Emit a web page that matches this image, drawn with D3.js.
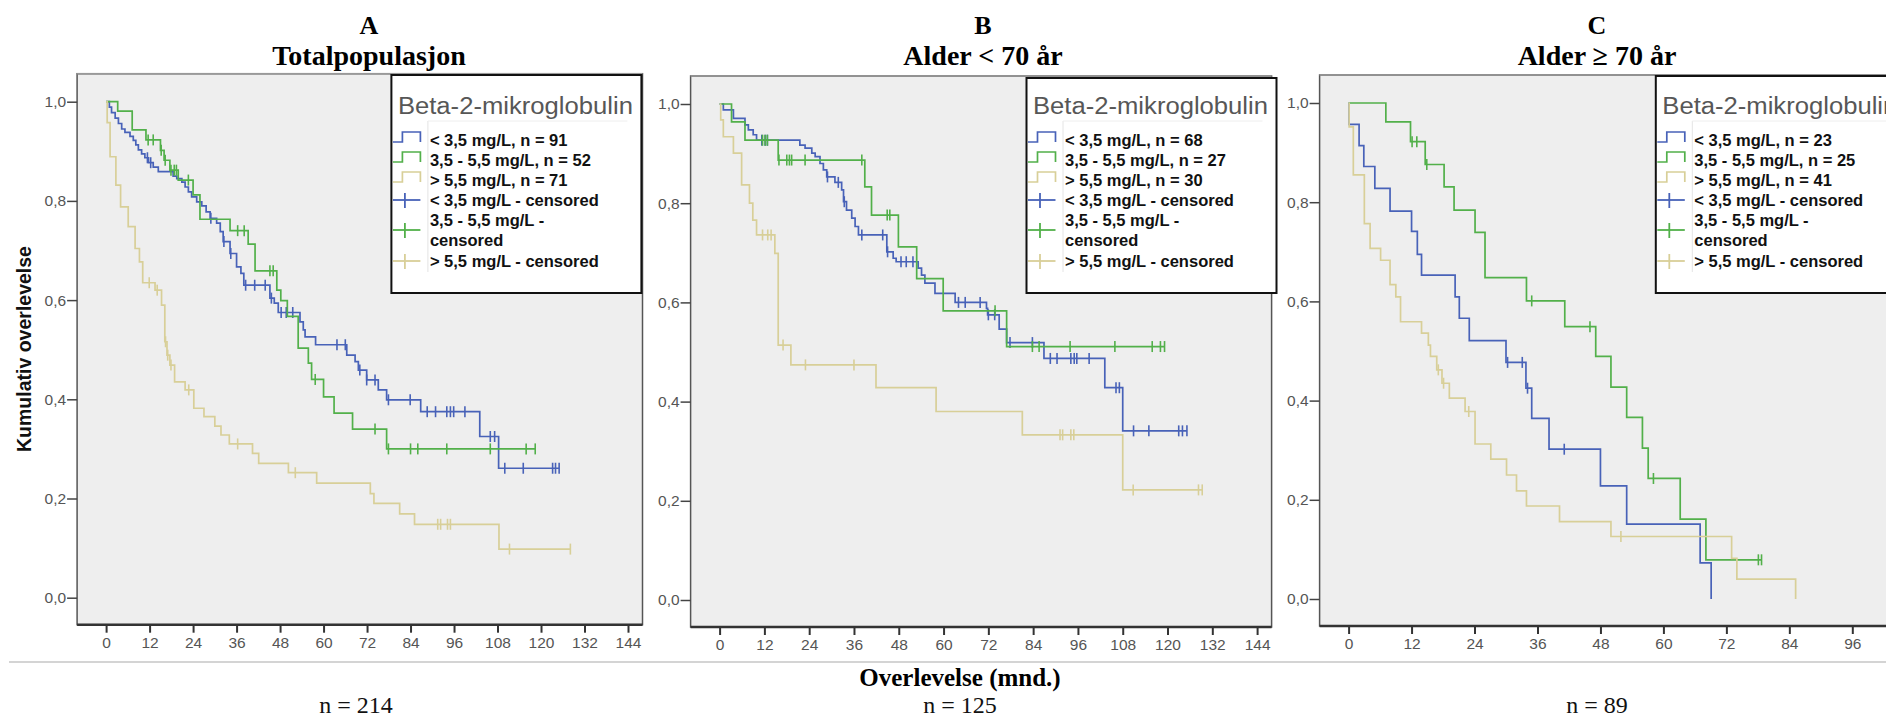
<!DOCTYPE html>
<html>
<head>
<meta charset="utf-8">
<script src="https://cdn.jsdelivr.net/npm/d3@7"></script>
<style>
  body { margin: 0; background: #fff; }
  svg { display: block; }
</style>
</head>
<body>
<svg id="chart" width="1886" height="718"></svg>
<script>
// ---- chart data ----
const panelLetters = ['A', 'B', 'C'];
const panelTitles = ['Totalpopulasjon', 'Alder < 70 år', 'Alder ≥ 70 år'];
const panelN = ['n = 214', 'n = 125', 'n = 89'];
const xTitle = 'Overlevelse (mnd.)';
const yTitle = 'Kumulativ overlevelse';
const legendTitle = 'Beta-2-mikroglobulin';
const groupColors = ['#4862b8', '#52b04a', '#d8cf98'];

const xTicksWide = [0, 12, 24, 36, 48, 60, 72, 84, 96, 108, 120, 132, 144];
const xTicksNarrow = [0, 12, 24, 36, 48, 60, 72, 84, 96];
const yTicks = [0, 0.2, 0.4, 0.6, 0.8, 1.0];

const legendA = ['< 3,5 mg/L, n = 91', '3,5 - 5,5 mg/L, n = 52', '> 5,5 mg/L, n = 71',
  '< 3,5 mg/L - censored', '3,5 - 5,5 mg/L -|censored', '> 5,5 mg/L - censored'];
const legendB = ['< 3,5 mg/L, n = 68', '3,5 - 5,5 mg/L, n = 27', '> 5,5 mg/L, n = 30',
  '< 3,5 mg/L - censored', '3,5 - 5,5 mg/L -|censored', '> 5,5 mg/L - censored'];
const legendC = ['< 3,5 mg/L, n = 23', '3,5 - 5,5 mg/L, n = 25', '> 5,5 mg/L, n = 41',
  '< 3,5 mg/L - censored', '3,5 - 5,5 mg/L -|censored', '> 5,5 mg/L - censored'];

// A: Totalpopulasjon
const aLowT = [0.9, 1.5, 2.5, 3.4, 4.3, 5.2, 6.6, 7.5, 8.2, 8.9, 9.8, 10.7, 11.7, 13.0, 14.4, 18.5, 19.5, 20.9, 21.8,
  22.7, 23.6, 25.0, 26.4, 27.6, 28.7, 30.5, 31.5, 32.3, 34.2, 36.0, 37.2, 38.0, 45.2, 46.4, 47.5, 53.5, 54.4, 54.9,
  57.8, 66.4, 68.7, 69.6, 71.9, 75.1, 77.4, 86.8, 103.1, 108.3];
const aLowS = [0.989, 0.978, 0.967, 0.956, 0.945, 0.938, 0.930, 0.922, 0.913, 0.903, 0.895, 0.887, 0.877, 0.868, 0.859,
  0.850, 0.845, 0.838, 0.828, 0.818, 0.808, 0.798, 0.790, 0.778, 0.765, 0.755, 0.738, 0.718, 0.694, 0.667, 0.654, 0.630,
  0.604, 0.594, 0.575, 0.556, 0.540, 0.526, 0.510, 0.489, 0.476, 0.459, 0.439, 0.419, 0.399, 0.375, 0.325, 0.261];
const aLowC = [11.4, 12.3, 28.9, 32.5, 34.4, 38.5, 41.0, 43.9, 45.6, 48.3, 49.7, 51.5, 63.7, 66.0, 70.0, 71.9, 74.2,
  77.9, 83.9, 88.6, 90.9, 94.0, 95.0, 95.9, 99.0, 106.0, 107.2, 110.0, 115.1, 123.2, 124.0, 125.0];

const aMidT = [3.2, 7.2, 11.0, 15.0, 16.0, 17.6, 19.9, 24.0, 25.9, 34.2, 39.2, 41.1, 47.1, 48.2, 50.0, 53.0, 55.8,
  56.7, 60.0, 62.9, 68.0, 77.4];
const aMidS = [0.981, 0.943, 0.923, 0.902, 0.882, 0.862, 0.842, 0.812, 0.763, 0.740, 0.713, 0.659, 0.620, 0.599,
  0.567, 0.503, 0.473, 0.440, 0.405, 0.372, 0.340, 0.300];
const aMidC = [11.6, 13.0, 15.2, 16.3, 17.9, 18.8, 19.4, 22.7, 36.3, 38.1, 45.2, 46.1, 57.7, 74.2, 77.9, 84.0, 86.0,
  94.0, 106.0, 115.9, 118.4];

const aHighT = [0.3, 1.1, 2.7, 4.0, 6.1, 8.0, 9.2, 10.1, 13.5, 15.3, 16.2, 16.8, 17.6, 18.9, 21.8, 24.2, 27.0, 30.0,
  31.7, 34.0, 40.4, 42.1, 50.3, 58.1, 72.9, 73.9, 81.0, 85.1, 108.4];
const aHighS = [0.958, 0.889, 0.832, 0.788, 0.748, 0.704, 0.677, 0.635, 0.620, 0.590, 0.516, 0.489, 0.469, 0.435,
  0.419, 0.382, 0.365, 0.346, 0.328, 0.310, 0.291, 0.271, 0.252, 0.231, 0.210, 0.190, 0.169, 0.148, 0.098];
const aHighC = [11.9, 14.1, 16.4, 17.0, 17.9, 22.8, 36.3, 52.2, 91.5, 92.3, 94.2, 95.0, 111.3, 128.1];

// B: Alder < 70 år
const bLowT = [1.0, 3.7, 6.8, 7.7, 9.0, 9.9, 21.5, 22.9, 24.7, 25.6, 26.9, 27.8, 28.7, 30.9, 32.7, 33.2, 34.0, 35.4,
  36.3, 37.2, 44.8, 46.5, 47.3, 53.2, 54.1, 55.0, 57.7, 63.1, 71.5, 71.8, 74.9, 76.9, 86.9, 103.2, 108.0];
const bLowS = [0.988, 0.971, 0.958, 0.948, 0.938, 0.927, 0.917, 0.911, 0.901, 0.894, 0.880, 0.867, 0.853, 0.842,
  0.827, 0.803, 0.786, 0.770, 0.753, 0.736, 0.702, 0.689, 0.682, 0.669, 0.655, 0.639, 0.618, 0.600, 0.588, 0.575,
  0.546, 0.519, 0.487, 0.428, 0.341];
const bLowC = [11.3, 12.2, 12.8, 28.9, 31.8, 33.4, 38.1, 43.7, 45.0, 48.6, 50.0, 51.8, 64.0, 65.8, 69.8, 72.0, 73.7,
  77.8, 83.8, 88.6, 90.4, 94.1, 95.0, 95.7, 99.0, 106.2, 107.1, 110.9, 115.0, 123.0, 124.0, 125.2];

const bMidT = [3.2, 6.8, 15.7, 38.9, 40.7, 47.9, 52.8, 59.9, 76.9];
const bMidS = [0.964, 0.927, 0.887, 0.833, 0.776, 0.712, 0.648, 0.583, 0.511];
const bMidC = [11.5, 12.2, 12.8, 15.9, 18.0, 18.7, 19.3, 22.9, 38.1, 44.9, 45.6, 73.8, 83.8, 85.6, 93.9, 105.9,
  115.9, 118.1, 119.2];

const bHighT = [0.3, 1.0, 3.7, 5.9, 8.0, 8.9, 9.9, 14.8, 15.7, 19.1, 41.9, 58.0, 81.1, 108.0];
const bHighS = [0.968, 0.934, 0.901, 0.837, 0.800, 0.766, 0.736, 0.699, 0.514, 0.474, 0.428, 0.380, 0.333, 0.222];
const bHighC = [11.5, 12.9, 13.8, 17.0, 23.0, 36.0, 91.2, 91.9, 94.1, 94.9, 110.8, 128.3, 129.3];

// C: Alder >= 70 år
const cLowT = [0.1, 2.0, 2.9, 5.0, 7.9, 12.0, 13.1, 13.9, 20.3, 21.1, 23.0, 30.0, 33.8, 34.9, 38.2, 48.0, 53.0,
  67.0, 69.1];
const cLowS = [0.957, 0.914, 0.872, 0.828, 0.782, 0.741, 0.695, 0.653, 0.609, 0.566, 0.521, 0.477, 0.425, 0.364,
  0.302, 0.228, 0.151, 0.073, 0.0];
const cLowC = [30.3, 33.1, 34.1, 41.1];

const cMidT = [7.1, 11.8, 14.6, 18.2, 20.1, 24.1, 26.0, 33.9, 41.2, 47.1, 50.0, 53.0, 56.0, 57.1, 63.2, 68.1];
const cMidS = [0.962, 0.922, 0.876, 0.831, 0.784, 0.739, 0.648, 0.601, 0.549, 0.489, 0.427, 0.366, 0.304, 0.243,
  0.161, 0.079];
const cMidC = [12.1, 13.0, 14.9, 34.9, 46.0, 58.1, 78.1, 78.7];

const cHighT = [0.1, 0.9, 3.0, 4.1, 6.1, 7.9, 9.0, 9.9, 13.9, 15.2, 15.6, 16.8, 17.8, 19.2, 22.2, 24.1, 27.1, 30.1,
  32.0, 33.9, 40.2, 50.0, 73.0, 74.0, 85.2];
const cHighS = [0.952, 0.855, 0.757, 0.707, 0.683, 0.634, 0.609, 0.559, 0.536, 0.512, 0.489, 0.462, 0.435, 0.405,
  0.378, 0.3125, 0.282, 0.250, 0.218, 0.1875, 0.156, 0.126, 0.082, 0.040, 0.0];
const cHighC = [17.1, 18.1, 22.9, 51.9];

// ---- layout ----
// C is cropped at the right edge in the reference, so its frame runs past the page (edgeT = last axis month)
const panels = [
  { groups: [[aLowT, aLowS, aLowC], [aMidT, aMidS, aMidC], [aHighT, aHighS, aHighC]], legend: legendA,
    ticks: xTicksWide, tRef: 144, edgeT: 144, x0: 106.1, x1: 628, y0: 597.7, y1: 101.7,
    legendX: 391.4, legendTop: 75, titleX: 369, nX: 356 },
  { groups: [[bLowT, bLowS, bLowC], [bMidT, bMidS, bMidC], [bHighT, bHighS, bHighC]], legend: legendB,
    ticks: xTicksWide, tRef: 144, edgeT: 144, x0: 719.6, x1: 1257.1, y0: 600, y1: 104,
    legendX: 1026.5, legendTop: 78, titleX: 983, nX: 960 },
  { groups: [[cLowT, cLowS, cLowC], [cMidT, cMidS, cMidC], [cHighT, cHighS, cHighC]], legend: legendC,
    ticks: xTicksNarrow, tRef: 96, edgeT: 108, x0: 1348.6, x1: 1852.3, y0: 599, y1: 103,
    legendX: 1655.8, legendTop: 76, titleX: 1597, nX: 1597 }
];

const svg = d3.select('#chart');
svg.append('rect').attr('width', 1886).attr('height', 718).attr('fill', '#fff');

const fmtComma = d => d3.format('.1f')(d).replace('.', ',');

const survAt = (T, S, t) => {
  let s = 1;
  T.forEach((ti, i) => { if (ti <= t) s = S[i]; });
  return s;
};

const rowCenters = [140, 160, 180, 200, 230, 261];

panels.forEach((p, pi) => {
  const x = d3.scaleLinear().domain([0, p.tRef]).range([p.x0, p.x1]);
  const y = d3.scaleLinear().domain([0, 1]).range([p.y0, p.y1]);
  const left = p.x0 - 29, right = x(p.edgeT) + 14.5;
  const top = p.y1 - 28, bottom = p.y0 + 27;

  const g = svg.append('g');

  // plot background + frame
  g.append('rect').attr('x', left).attr('y', top).attr('width', right - left).attr('height', bottom - top)
    .attr('fill', '#eeeeee').attr('stroke', '#555').attr('stroke-width', 1.5);
  g.append('line').attr('x1', left).attr('x2', right).attr('y1', top).attr('y2', top)
    .attr('stroke', '#999').attr('stroke-width', 1.5);

  // y axis
  const yAxis = g.append('g').attr('transform', `translate(${left},0)`)
    .call(d3.axisLeft(y).tickValues(yTicks).tickFormat(fmtComma).tickSize(10).tickPadding(1));
  yAxis.select('.domain').remove();
  yAxis.selectAll('line').attr('stroke', '#444').attr('stroke-width', 1.5);
  yAxis.selectAll('text').attr('font-family', 'Liberation Sans, Arial, sans-serif')
    .attr('font-size', 15.5).attr('fill', '#555');

  // x axis
  const xAxis = g.append('g').attr('transform', `translate(0,${bottom})`)
    .call(d3.axisBottom(x).tickValues(p.ticks).tickFormat(d3.format('d')).tickSize(8).tickPadding(4));
  xAxis.select('.domain').remove();
  xAxis.selectAll('line').attr('stroke', '#333').attr('stroke-width', 2);
  xAxis.selectAll('text').attr('font-family', 'Liberation Sans, Arial, sans-serif')
    .attr('font-size', 15.5).attr('fill', '#555');
  g.append('line').attr('x1', left).attr('x2', right).attr('y1', bottom).attr('y2', bottom)
    .attr('stroke', '#333').attr('stroke-width', 2.5);

  // survival curves
  const line = d3.line().x(d => x(d[0])).y(d => y(d[1])).curve(d3.curveStepAfter);
  p.groups.forEach(([T, S, C], gi) => {
    const end = Math.max(T[T.length - 1], C.length ? C[C.length - 1] : 0);
    const pts = [[0, 1]].concat(T.map((t, i) => [t, S[i]]));
    pts.push([end, S[S.length - 1]]);
    g.append('path').attr('d', line(pts)).attr('fill', 'none')
      .attr('stroke', groupColors[gi]).attr('stroke-width', 1.7);
    g.selectAll(null).data(C).enter().append('line')
      .attr('x1', d => x(d)).attr('x2', d => x(d))
      .attr('y1', d => y(survAt(T, S, d)) - 5.5).attr('y2', d => y(survAt(T, S, d)) + 5.5)
      .attr('stroke', groupColors[gi]).attr('stroke-width', 1.6);
  });

  // legend
  const lx = p.legendX;
  const lg = svg.append('g');
  lg.append('rect').attr('x', lx).attr('y', p.legendTop).attr('width', 250).attr('height', 293 - p.legendTop)
    .attr('fill', '#fff').attr('stroke', '#111').attr('stroke-width', 2);
  lg.append('line').attr('x1', lx + 36.5).attr('x2', lx + 36.5).attr('y1', 121).attr('y2', 272)
    .attr('stroke', '#e4e4e4').attr('stroke-width', 1);
  lg.append('line').attr('x1', lx + 36.5).attr('x2', lx + 236).attr('y1', 121).attr('y2', 121)
    .attr('stroke', '#eeeeee').attr('stroke-width', 1);
  lg.append('text').attr('x', lx + 6.5).attr('y', 113.5).text(legendTitle)
    .attr('font-family', 'Liberation Sans, Arial, sans-serif').attr('font-size', 23)
    .attr('fill', '#575757').attr('textLength', 235).attr('lengthAdjust', 'spacingAndGlyphs');

  p.legend.forEach((label, ri) => {
    const cy = rowCenters[ri];
    const col = groupColors[ri % 3];
    if (ri < 3) {
      lg.append('path')
        .attr('d', `M${lx + 1.5},${cy + 2}H${lx + 11}V${cy - 8}H${lx + 29}V${cy + 2}`)
        .attr('fill', 'none').attr('stroke', col).attr('stroke-width', 1.7);
    } else {
      lg.append('line').attr('x1', lx + 1.5).attr('x2', lx + 29).attr('y1', cy).attr('y2', cy)
        .attr('stroke', col).attr('stroke-width', 1.8);
      lg.append('line').attr('x1', lx + 13.5).attr('x2', lx + 13.5).attr('y1', cy - 7).attr('y2', cy + 8)
        .attr('stroke', col).attr('stroke-width', 1.8);
    }
    const lines = label.split('|');
    lines.forEach((txt, li) => {
      lg.append('text').attr('x', lx + 38.5)
        .attr('y', cy + (li - (lines.length - 1) / 2) * 20)
        .attr('dominant-baseline', 'central')
        .attr('font-family', 'Liberation Sans, Arial, sans-serif').attr('font-weight', 'bold')
        .attr('font-size', 16.5).attr('fill', '#111').text(txt);
    });
  });

  // titles
  svg.append('text').attr('x', p.titleX).attr('y', 34).attr('text-anchor', 'middle')
    .attr('font-family', 'Liberation Serif, Times New Roman, serif').attr('font-weight', 'bold')
    .attr('font-size', 26).text(panelLetters[pi]);
  svg.append('text').attr('x', p.titleX).attr('y', 65).attr('text-anchor', 'middle')
    .attr('font-family', 'Liberation Serif, Times New Roman, serif').attr('font-weight', 'bold')
    .attr('font-size', 28).text(panelTitles[pi]);
  svg.append('text').attr('x', p.nX).attr('y', 713).attr('text-anchor', 'middle')
    .attr('font-family', 'Liberation Serif, Times New Roman, serif')
    .attr('font-size', 24).attr('fill', '#111').text(panelN[pi]);
});

// shared labels
svg.append('line').attr('x1', 9).attr('x2', 1886).attr('y1', 662).attr('y2', 662)
  .attr('stroke', '#c6c6c6').attr('stroke-width', 1.5);
svg.append('text').attr('x', 960).attr('y', 686).attr('text-anchor', 'middle')
  .attr('font-family', 'Liberation Serif, Times New Roman, serif').attr('font-weight', 'bold')
  .attr('font-size', 25).text(xTitle);
svg.append('text').attr('transform', 'translate(31,349) rotate(-90)').attr('text-anchor', 'middle')
  .attr('font-family', 'Liberation Sans, Arial, sans-serif').attr('font-weight', 'bold')
  .attr('font-size', 19.5).attr('fill', '#111').text(yTitle);
</script>
</body>
</html>
